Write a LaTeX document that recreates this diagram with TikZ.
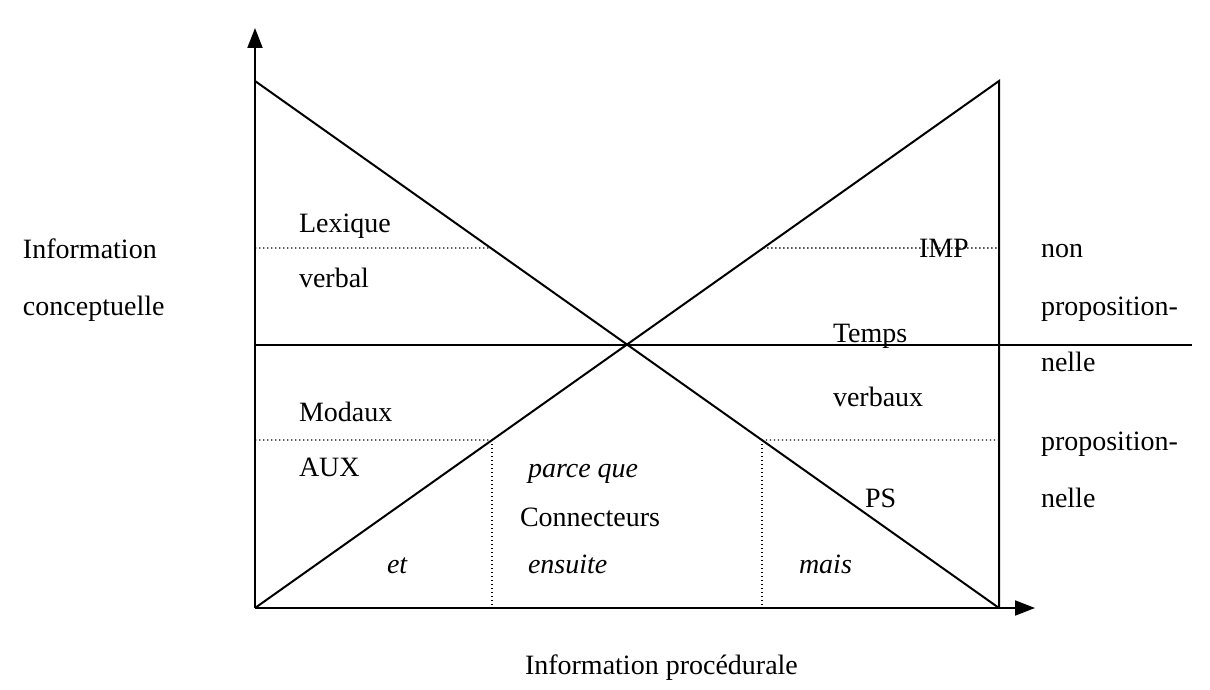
\documentclass[tikz,border=0pt]{standalone}
\usepackage{fontspec}
\setmainfont{Liberation Serif}
\usetikzlibrary{arrows.meta,calc}
\begin{document}
\begin{tikzpicture}[x=1pt,y=-1pt, line width=2pt,
  lbl/.style={anchor=west, inner sep=0pt, font=\fontsize{28}{34}\selectfont, text height=0.68em, text depth=0.2em},
  dotline/.style={line width=1.4pt, dash pattern=on 1.4pt off 2.6pt},
  axis/.style={-{Triangle[length=20pt,width=15pt]}}]
\useasboundingbox (0,0) rectangle (1210,690);
% key points
\coordinate (O) at (255,608);
\coordinate (Ytop) at (255,28);
\coordinate (Xend) at (1035,608);
\coordinate (TL) at (255,81);
\coordinate (TR) at (999,81);
\coordinate (BR) at (999,608);
\coordinate (HL) at (255,344.5);
\coordinate (HR) at (1192,344.5);
\coordinate (A1) at (255,248);
\coordinate (B1) at ($(TL)!0.3169!(BR)$);
\coordinate (C1) at ($(TR)!0.3169!(O)$);
\coordinate (D1) at (999,248);
\coordinate (A2) at (255,440);
\coordinate (B2) at ($(TR)!0.6812!(O)$);
\coordinate (C2) at ($(TL)!0.6812!(BR)$);
\coordinate (D2) at (999,440);
\coordinate (B3) at (B2 |- O);
\coordinate (C3) at (C2 |- O);
% axes
\draw[axis] (O) -- (Ytop);
\draw[axis] (O) -- (Xend);
% triangles
\draw (TL) -- (BR);
\draw (O) -- (TR) -- (BR);
\draw (HL) -- (HR);
% dotted
\draw[dotline] (A1) -- (B1);
\draw[dotline] (C1) -- (D1);
\draw[dotline] (A2) -- (B2);
\draw[dotline] (C2) -- (D2);
\draw[dotline] (B2) -- (B3);
\draw[dotline] (C2) -- (C3);
% labels
\node[lbl] (info1) at (22,256) {Information};
\node[lbl] (info2) at (22,313) {conceptuelle};
\node[lbl] (lex) at (298,230) {Lexique};
\node[lbl] (verbal) at (298,285) {verbal};
\node[lbl] (modaux) at (298,419) {Modaux};
\node[lbl] (aux) at (298,474) {AUX};
\node[lbl] (et) at (386,571) {\itshape et};
\node[lbl] (pq) at (527,475) {\itshape parce que};
\node[lbl] (conn) at (519,524) {Connecteurs};
\node[lbl] (ens) at (527,571) {\itshape ensuite};
\node[lbl] (mais) at (798,571) {\itshape mais};
\node[lbl] (ps) at (864,505) {PS};
\node[lbl] (imp) at (918,255) {IMP};
\node[lbl] (temps) at (832,340) {Temps};
\node[lbl] (verbaux) at (832,404) {verbaux};
\node[lbl] (r1) at (1040,255) {non};
\node[lbl] (r2) at (1040,313) {proposition-};
\node[lbl] (r3) at (1040,369) {nelle};
\node[lbl] (r4) at (1040,448) {proposition-};
\node[lbl] (r5) at (1040,505) {nelle};
\node[lbl] (proc) at (524,672) {Information procédurale};
\end{tikzpicture}
\end{document}
